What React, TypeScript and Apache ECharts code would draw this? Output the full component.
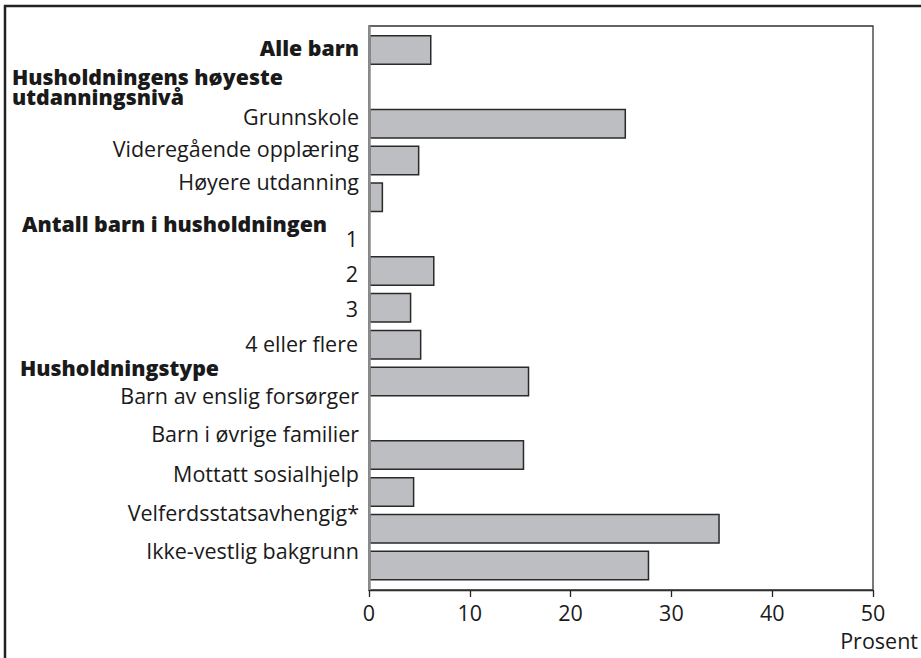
import React, { useEffect, useRef } from "react";
import * as echarts from "echarts";

// 15 rows of the chart (top to bottom); null = heading row without a bar
const rowIds = ["r0", "r1", "r2", "r3", "r4", "r5", "r6", "r7", "r8", "r9", "r10", "r11", "r12", "r13", "r14"];
const rowValues: (number | null)[] = [6.2, null, 25.5, 5.0, 1.4, null, 6.5, 4.2, 5.2, 15.9, null, 15.4, 4.5, 34.8, 27.8];
const xTickValues = [0, 10, 20, 30, 40, 50];
const axisName = "Prosent";

// Labels as printed in the figure
const labelTexts = [
  "Alle barn",
  "Husholdningens høyeste\nutdanningsnivå",
  "Grunnskole",
  "Videregående opplæring",
  "Høyere utdanning",
  "Antall barn i husholdningen",
  "1",
  "2",
  "3",
  "4 eller flere",
  "Husholdningstype",
  "Barn av enslig forsørger",
  "Barn i øvrige familier",
  "Mottatt sosialhjelp",
  "Velferdsstatsavhengig*",
  "Ikke-vestlig bakgrunn",
];
const labelBold = [true, true, false, false, false, true, false, false, false, false, true, false, false, false, false, false];

// layout (positions only)
const labelLayout: { x: number; y: number; align: "left" | "right" }[] = [
  { x: 359, y: 47, align: "right" },
  { x: 12, y: 86.5, align: "left" },
  { x: 359, y: 116, align: "right" },
  { x: 359, y: 148, align: "right" },
  { x: 359, y: 181, align: "right" },
  { x: 22, y: 223, align: "left" },
  { x: 358, y: 238, align: "right" },
  { x: 358, y: 273, align: "right" },
  { x: 358, y: 308, align: "right" },
  { x: 358, y: 343, align: "right" },
  { x: 20, y: 367, align: "left" },
  { x: 359, y: 395, align: "right" },
  { x: 359, y: 433, align: "right" },
  { x: 359, y: 473, align: "right" },
  { x: 359, y: 512, align: "right" },
  { x: 359, y: 550, align: "right" },
];

const FONT = "'Open Sans', 'Noto Sans', sans-serif";

export default function App() {
  const ref = useRef<HTMLDivElement>(null);
  useEffect(() => {
    if (!ref.current) return;
    const chart = echarts.init(ref.current, undefined, { renderer: "svg" });

    const plotLeft = 369;
    const plotRight = 873;
    const plotTop = 26;
    const plotBottom = 590;
    const gridTop = 31.6;
    const gridBottom = 584;

    const texts = labelTexts.map((t, i) => ({
      type: "text",
      z: 10,
      style: {
        text: t,
        x: labelLayout[i].x,
        y: labelLayout[i].y,
        textAlign: labelLayout[i].align,
        textVerticalAlign: "middle",
        fill: "#1a1a1a",
        font: labelBold[i] ? `800 21.3px ${FONT}` : `21.5px ${FONT}`,
        lineHeight: 20,
      },
    }));

    chart.setOption({
      animation: false,
      backgroundColor: "#ffffff",
      grid: {
        left: plotLeft,
        right: 921 - plotRight,
        top: gridTop,
        height: gridBottom - gridTop,
        containLabel: false,
      },
      xAxis: {
        type: "value",
        min: xTickValues[0],
        max: xTickValues[xTickValues.length - 1],
        interval: 10,
        position: "bottom",
        offset: plotBottom - gridBottom,
        axisLine: { show: true, lineStyle: { color: "#222", width: 1.3 } },
        axisTick: { show: true, length: 7, lineStyle: { color: "#222", width: 1.3 } },
        axisLabel: { color: "#1a1a1a", fontSize: 21.5, fontFamily: FONT, margin: 11 },
        splitLine: { show: false },
      },
      yAxis: {
        type: "category",
        data: rowIds,
        inverse: true,
        axisLine: { show: false },
        axisTick: { show: false },
        axisLabel: { show: false },
        splitLine: { show: false },
      },
      series: [
        {
          type: "bar",
          data: rowValues.map((v) => (v === null ? "-" : v)),
          barWidth: 30,
          itemStyle: { color: "#bdbec2", borderColor: "#2a2a2a", borderWidth: 1.5 },
          silent: true,
        },
      ],
      graphic: [
        // outer figure frame
        {
          type: "rect",
          z: 5,
          shape: { x: 5, y: 6, width: 1000, height: 1000 },
          style: { fill: "none", stroke: "#222", lineWidth: 2.5 },
        },
        // plot frame
        {
          type: "rect",
          z: 5,
          shape: { x: plotLeft, y: plotTop, width: plotRight - plotLeft, height: plotBottom - plotTop },
          style: { fill: "none", stroke: "#333", lineWidth: 1.3 },
        },
        {
          type: "line",
          z: 6,
          shape: { x1: plotLeft + 0.5, y1: plotTop, x2: plotLeft + 0.5, y2: plotBottom },
          style: { stroke: "#8c8c8c", lineWidth: 2.5 },
        },
        ...texts,
        {
          type: "text",
          z: 10,
          style: {
            text: axisName,
            x: 918,
            y: 640,
            textAlign: "right",
            textVerticalAlign: "middle",
            fill: "#1a1a1a",
            font: `21.5px ${FONT}`,
          },
        },
      ],
    });
    return () => chart.dispose();
  }, []);
  return <div ref={ref} style={{ width: 921, height: 658, position: "absolute", left: 0, top: 0 }} />;
}
